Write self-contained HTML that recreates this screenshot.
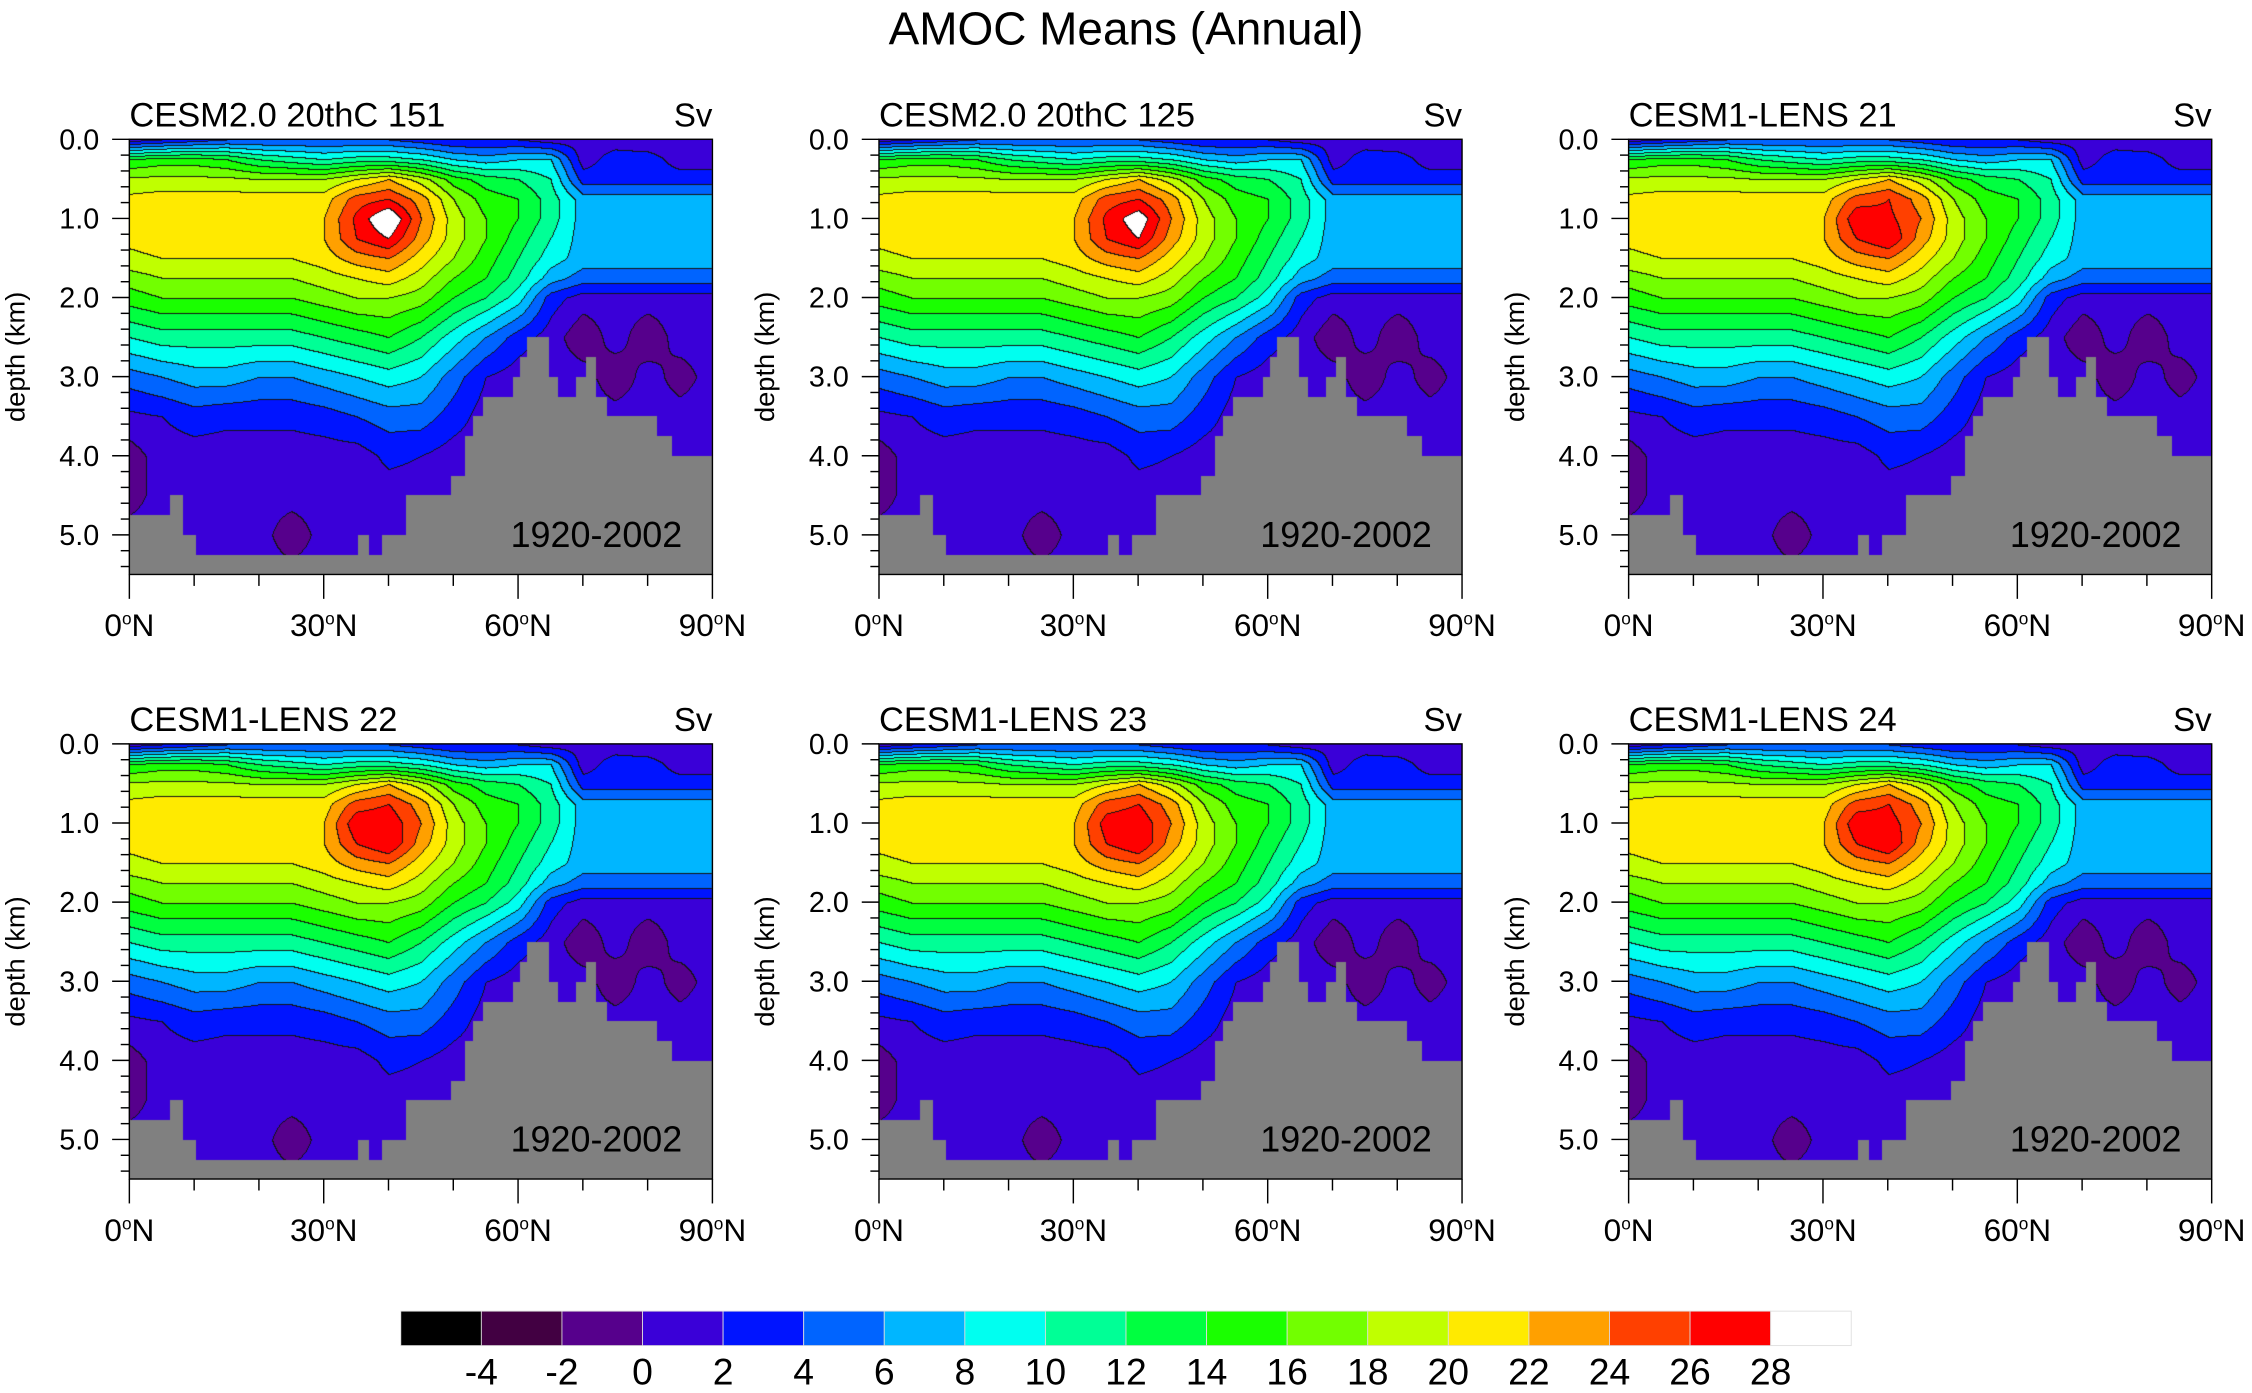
<!DOCTYPE html>
<html><head><meta charset="utf-8">
<style>
html,body{margin:0;padding:0;background:#fff;}
#wrap{position:relative;width:2252px;height:1393px;overflow:hidden;}
canvas,svg{position:absolute;left:0;top:0;}
text{font-family:"Liberation Sans",sans-serif;fill:#000;}
</style></head>
<body>
<div id="wrap">
<canvas id="cv" width="2252" height="1393"></canvas>
<svg id="sv" width="2252" height="1393" viewBox="0 0 1568 970"></svg>
</div>
<script>
// ---------- data ----------
const panelTitles = ["CESM2.0 20thC 151","CESM2.0 20thC 125","CESM1-LENS 21","CESM1-LENS 22","CESM1-LENS 23","CESM1-LENS 24"];
const panelPeak35 = [26.5, 26.5, 27.5, 27.5, 27, 27.5];
const panelPeak40 = [30.5, 29.5, 26.5, 27.5, 27.5, 27];
const lats = [0,5,10,15,20,25,30,35,40,45,50,55,60,65,70,75,80,85,90];
const depths = [0,0.25,0.5,0.75,1.0,1.25,1.5,1.75,2.0,2.5,3.0,3.5,4.0,4.5,5.0,5.5];
const field = [
 [1,2,3,4,4,4,4,4,4,3,2,2,2,1,1,1,0.5,0.5,1],
 [14,15,15,14,12,11,10,11,11,10,8,7,8,8,1,3,3,1,1],
 [18.5,18.5,18.5,18.5,18,18,18,20,22,19,15,13,12,10,3,3,3,3,3],
 [20.5,21,21,21,21,21,21,25,26,23,18,15,14,11,7,7,7,7,7],
 [21,21,21,21,21,21,22,27,29,24,19,16,14,11,7,7,7,7,7],
 [20.5,21,21,21,21,21,22,26,28,23,19,16,13,10,7,7,7,7,7],
 [19.5,20,20,20,20,20,21,23,24,21,18,15,12,9,7,7,7,7,7],
 [17,18,18,18,18,18,19,20,21,19,16,14,11,7,5,5,5,5,5],
 [15,16,16,16,16,16,17,18,18,17,14,12,9,3,1,1,1,1,1],
 [10,11,11,11,11,11,12,13,14,12,9,6,3,1,-1.5,1,-1.5,1,1],
 [5,6,7,7,6,6,7,8,9,8,5,2,1,1,1,-1.5,1,-1,1],
 [1.5,2,3,2.5,2.5,2.5,3,4,5,5,3,1,1,1,1,1,1,1,1],
 [-1,1,1,1,1,1,1,1,2.5,2,1,1,1,1,1,1,1,1,1],
 [-1,1,1,1,1,1,1,1,1,1,1,1,1,1,1,1,1,1,1],
 [1,1,1,1,1,-1.5,1,1,1,1,1,1,1,1,1,1,1,1,1],
 [1,1,1,1,1,1,1,1,1,1,1,1,1,1,1,1,1,1,1]
];
const bathyLatEdges = [0,6.2,8.3,10.3,35.2,37,39,42.7,49.6,51.8,53,54.5,59.2,60.3,61.4,64.7,66.2,68.9,70.5,72,73.7,81.5,83.7,90];
const bathyDepth = [4.75,4.5,5.0,5.25,5.0,5.25,5.0,4.5,4.25,3.75,3.5,3.25,3.0,2.75,2.5,3.0,3.25,3.0,2.75,3.25,3.5,3.75,4.0];
const levels = [-4,-2,0,2,4,6,8,10,12,14,16,18,20,22,24,26,28];
const levelColors = ["#000000","#420042","#56008c","#3a00d8","#0014ff","#0064ff","#00b6ff","#00fff0","#00ff96","#00ff40","#1aff00","#72ff00","#c0ff00","#ffea00","#ffa000","#ff4000","#ff0000","#ffffff"];
const yTicks = [0,1,2,3,4,5];
const xTicks = [0,30,60,90];

// ---------- layout (display units, viewBox 1568x970) ----------
const K = 2252/1568;
const colX = [90,612,1134], rowY = [97,518], PW = 406, PH = 303, DMAX = 5.5;
const NS = "http://www.w3.org/2000/svg";
const svg = document.getElementById('sv');
function mk(tag, attrs, parent){const e=document.createElementNS(NS,tag);for(const k in attrs)e.setAttribute(k,attrs[k]);(parent||svg).appendChild(e);return e;}
function hex(c){return [parseInt(c.substr(1,2),16),parseInt(c.substr(3,2),16),parseInt(c.substr(5,2),16)];}
const rgb = levelColors.map(hex);
function levelIdx(v){let i=0;while(i<levels.length&&v>=levels[i])i++;return i;}
function bathy(lat){for(let i=0;i<bathyDepth.length;i++){if(lat<bathyLatEdges[i+1])return bathyDepth[i];}return bathyDepth[bathyDepth.length-1];}
function sample(p,lat,d){
  let li=Math.min(Math.floor(lat/5),lats.length-2); let lt=(lat-lats[li])/5;
  let di=0; while(di<depths.length-2&&d>depths[di+1])di++;
  let dt=(d-depths[di])/(depths[di+1]-depths[di]);
  const g=(r,c)=>{ if(r===4&&c===7)return panelPeak35[p]; if(r===4&&c===8)return panelPeak40[p]; return field[r][c]; };
  const a=g(di,li)*(1-lt)+g(di,li+1)*lt, b=g(di+1,li)*(1-lt)+g(di+1,li+1)*lt;
  return a*(1-dt)+b*dt;
}
const cv=document.getElementById('cv'); const ctx=cv.getContext('2d');
const img=ctx.createImageData(2252,1393); const D=img.data;
for(let p=0;p<6;p++){
  const x0=Math.round(colX[p%3]*K), y0=Math.round(rowY[Math.floor(p/3)]*K);
  const w=Math.round(PW*K), h=Math.round(PH*K);
  const idx=new Int8Array(w*h);
  for(let j=0;j<h;j++)for(let i=0;i<w;i++){
    const lat=90*i/w, d=DMAX*j/h;
    idx[j*w+i] = d>=bathy(lat) ? -1 : levelIdx(sample(p,lat,d));
  }
  for(let j=0;j<h;j++)for(let i=0;i<w;i++){
    const v=idx[j*w+i]; let c;
    if(v<0)c=[128,128,128];
    else{ c=rgb[v];
      const l=i>0?idx[j*w+i-1]:v, u=j>0?idx[(j-1)*w+i]:v;
      if((l>=0&&l!==v)||(u>=0&&u!==v))c=[20,20,20]; }
    const o=((y0+j)*2252+(x0+i))*4; D[o]=c[0];D[o+1]=c[1];D[o+2]=c[2];D[o+3]=255;
  }
}
ctx.putImageData(img,0,0);

// ---------- overlay ----------
const title=mk('text',{x:784,y:31,'font-size':32,'text-anchor':'middle'}); title.textContent="AMOC Means (Annual)";
 
for(let p=0;p<6;p++){
  const X=colX[p%3], Y=rowY[Math.floor(p/3)];
  const g=mk('g',{});
   
  const fr=mk('rect',{x:X,y:Y,width:PW,height:PH,fill:'none',stroke:'#000','stroke-width':1},g);
   
  const t=mk('text',{x:X,y:Y-9,'font-size':24},g); t.textContent=panelTitles[p];
   
  const u=mk('text',{x:X+PW,y:Y-9,'font-size':23,'text-anchor':'end'},g); u.textContent="Sv";
   
  const yr=mk('text',{x:X+PW-21,y:Y+284,'font-size':25,'text-anchor':'end'},g); yr.textContent="1920-2002";
   
  const yt=mk('text',{x:X-73,y:Y+PH/2,'font-size':19,'text-anchor':'middle',transform:`rotate(-90 ${X-73} ${Y+PH/2})`},g); yt.textContent="depth (km)";
   
  for(let d=0;d<=DMAX+1e-6;d+=0.2){
    const y=Y+PH*d/DMAX; const major=Math.abs(d-Math.round(d))<1e-6;
    mk('line',{x1:X-(major?12:6),x2:X,y1:y,y2:y,stroke:'#000','stroke-width':1},g);
  }
  yTicks.forEach(v=>{const l=mk('text',{x:X-21,y:Y+PH*v/DMAX+7,'font-size':20,'text-anchor':'end'},g);l.textContent=v.toFixed(1);
     });
  for(let a=0;a<=90;a+=10){const x=X+PW*a/90;const major=a%30===0;
    mk('line',{x1:x,x2:x,y1:Y+PH,y2:Y+PH+(major?17:8),stroke:'#000','stroke-width':1},g);}
  xTicks.forEach(v=>{const l=mk('text',{x:X+PW*v/90,y:Y+PH+43,'font-size':22,'text-anchor':'middle'},g);
    l.innerHTML=v+'<tspan dy="-8" font-size="12">o</tspan><tspan dy="8">N</tspan>';
     });
}
// colorbar
const cb=mk('g',{});  
const CX=279, CW=1010, CY=913, CH=24, bw=CW/levelColors.length;
levelColors.forEach((c,i)=>{const r=mk('rect',{x:CX+i*bw,y:CY,width:bw,height:CH,fill:c,stroke:'#ddd','stroke-width':0.6},cb);
   });
levels.forEach((v,i)=>{const t=mk('text',{x:CX+(i+1)*bw,y:964,'font-size':26,'text-anchor':'middle'},cb);t.textContent=v;
   });
</script>
</body></html>
